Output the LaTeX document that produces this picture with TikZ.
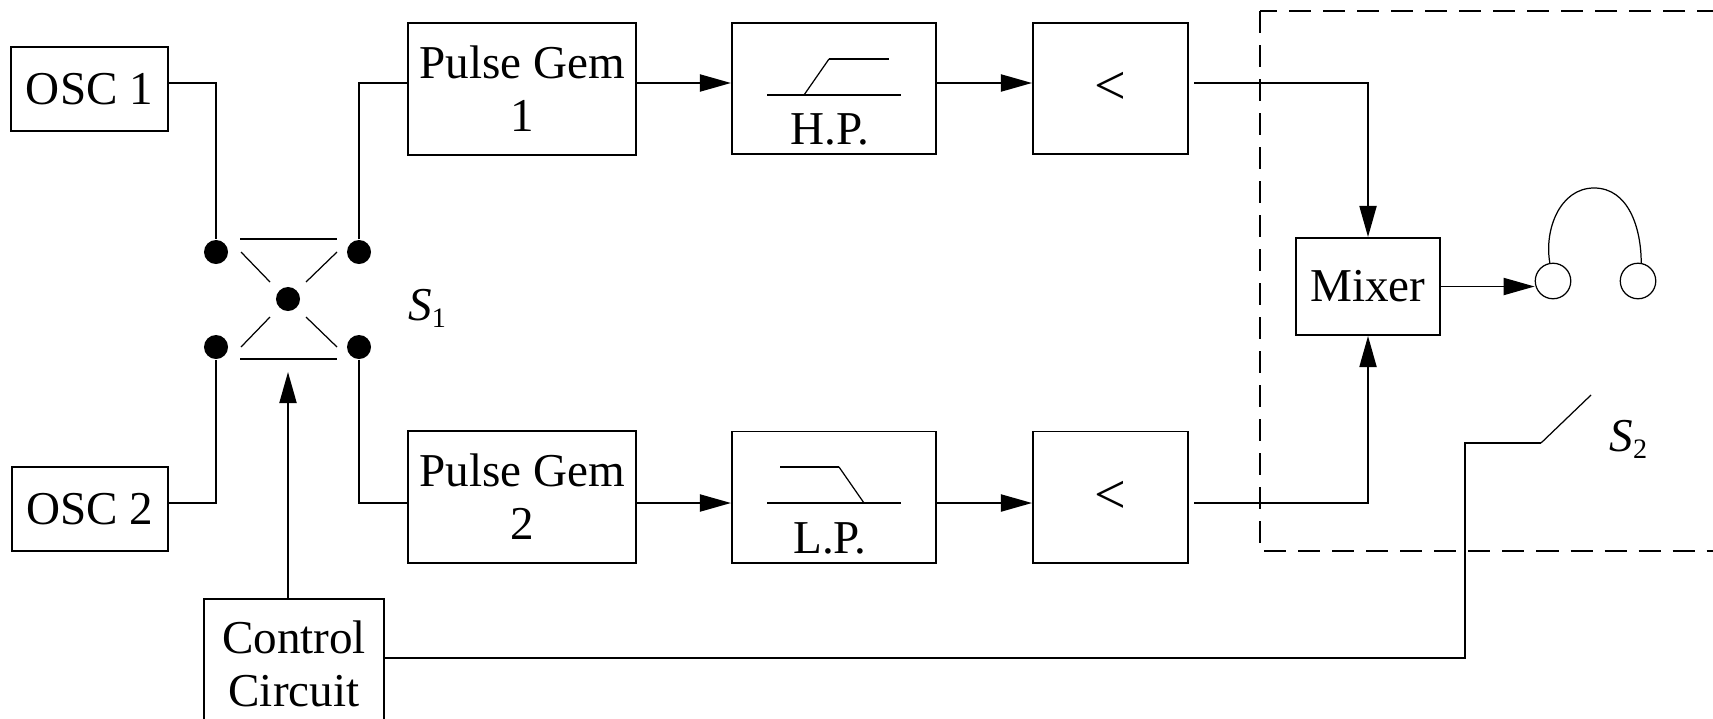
\documentclass[tikz,border=0pt]{standalone}
\usepackage{fontspec}
\setmainfont{Liberation Serif}
\usetikzlibrary{arrows.meta}
\begin{document}
\begin{tikzpicture}[x=0.01cm,y=-0.01cm,
  every node/.style={font=\fontsize{13.4}{15}\selectfont},
  blk/.style={draw,line width=0.55pt,inner sep=0pt,align=center},
  dot/.style={circle,fill,inner sep=0pt,minimum size=0.24cm},
  ear/.style={circle,draw,line width=0.35pt,inner sep=0pt,minimum size=0.355cm},
  wire/.style={line width=0.55pt},
  thinw/.style={line width=0.35pt},
  arr/.style={wire,-{Triangle[length=0.31cm,width=0.17cm]}}]
\useasboundingbox (0,0) rectangle (1713,718);
\clip (0,0) rectangle (1713,718);
\node[blk,minimum width=1.57cm,minimum height=0.84cm](osc1) at(89.5,89){OSC 1};
\node[blk,minimum width=1.56cm,minimum height=0.84cm](osc2) at(90,509){OSC 2};
\node[blk,minimum width=2.28cm,minimum height=1.32cm](pg1) at(522,89){Pulse Gem\\1};
\node[blk,minimum width=2.28cm,minimum height=1.32cm](pg2) at(522,497){Pulse Gem\\2};
\node[blk,minimum width=2.04cm,minimum height=1.31cm](hp) at(834,88.5){};
\node[blk,minimum width=2.04cm,minimum height=1.31cm](lp) at(834,497){};
\node[blk,minimum width=1.55cm,minimum height=1.31cm,font=\fontsize{16}{18}\selectfont](lim1) at(1110.5,88.5){<};
\node[blk,minimum width=1.55cm,minimum height=1.31cm,font=\fontsize{16}{18}\selectfont](lim2) at(1110.5,497){<};
\node[blk,minimum width=1.44cm,minimum height=0.97cm](mix) at(1368,286.5){Mixer};
\node[blk,minimum width=1.80cm,minimum height=1.30cm](ctrl) at(294,664){Control\\Circuit};
\node[anchor=base](hpl) at(830,144){H.P.};
\node[anchor=base](lpl) at(830,553){L.P.};
\node[dot](d1) at(216,252){};
\node[dot](d2) at(359,252){};
\node[dot](d3) at(216,347){};
\node[dot](d4) at(359,347){};
\node[dot](dc) at(288,299){};
\node[anchor=base west](s1) at(396,320){\textit{S}\raisebox{-2pt}{\fontsize{8}{8}\selectfont 1}};
\node[anchor=base west](s2) at(1597,451){\textit{S}\raisebox{-2pt}{\fontsize{8}{8}\selectfont 2}};
\node[ear](ear1) at(1553,281){};
\node[ear](ear2) at(1638,281){};
\coordinate(r1) at(0,83);
\coordinate(r2) at(0,503);
\coordinate(ct) at(288,372);
\coordinate(cl) at(1465,658);
\coordinate(sw) at(1541,443);
\coordinate(swb) at(1591,395);
\draw[wire](osc1.east|-r1)-|(d1);
\draw[wire](osc2.east|-r2)-|(d3);
\draw[wire](d2)|-(pg1.west|-r1);
\draw[wire](d4)|-(pg2.west|-r2);
\draw[wire](240,239)--(337,239);
\draw[wire](240,359)--(337,359);
\draw[thinw](241,252)--(270,282);
\draw[thinw](337,252)--(306,282);
\draw[thinw](241,347)--(270,317);
\draw[thinw](337,347)--(306,317);
\draw[arr](pg1.east|-r1)--(hp.west|-r1);
\draw[arr](hp.east|-r1)--(lim1.west|-r1);
\draw[arr](pg2.east|-r2)--(lp.west|-r2);
\draw[arr](lp.east|-r2)--(lim2.west|-r2);
\draw[arr,shorten <=0.05cm](lim1.east|-r1)-|(mix.north);
\draw[arr,shorten <=0.05cm](lim2.east|-r2)-|(mix.south);
\draw[arr](mix.east)--(ear1.west|-mix.east);
\draw[arr](dc|-ctrl.north)--(ct);
\draw[wire](ctrl.east|-cl)--(cl)|-(sw);
\draw[thinw](sw)--(swb);
\draw[wire](767,95)--(901,95);
\draw[thinw](804,95)--(829,59);
\draw[wire](829,59)--(889,59);
\draw[wire](767,503)--(901,503);
\draw[wire](780,467)--(839,467);
\draw[thinw](839,467)--(864,503);
\draw[thinw](ear1.100) to[out=100,in=180] (1594,188) to[out=0,in=90] (ear2.80);
\draw[wire,dash pattern=on 0.22cm off 0.12cm](1260,11) rectangle (1800,551);
\end{tikzpicture}
\end{document}
